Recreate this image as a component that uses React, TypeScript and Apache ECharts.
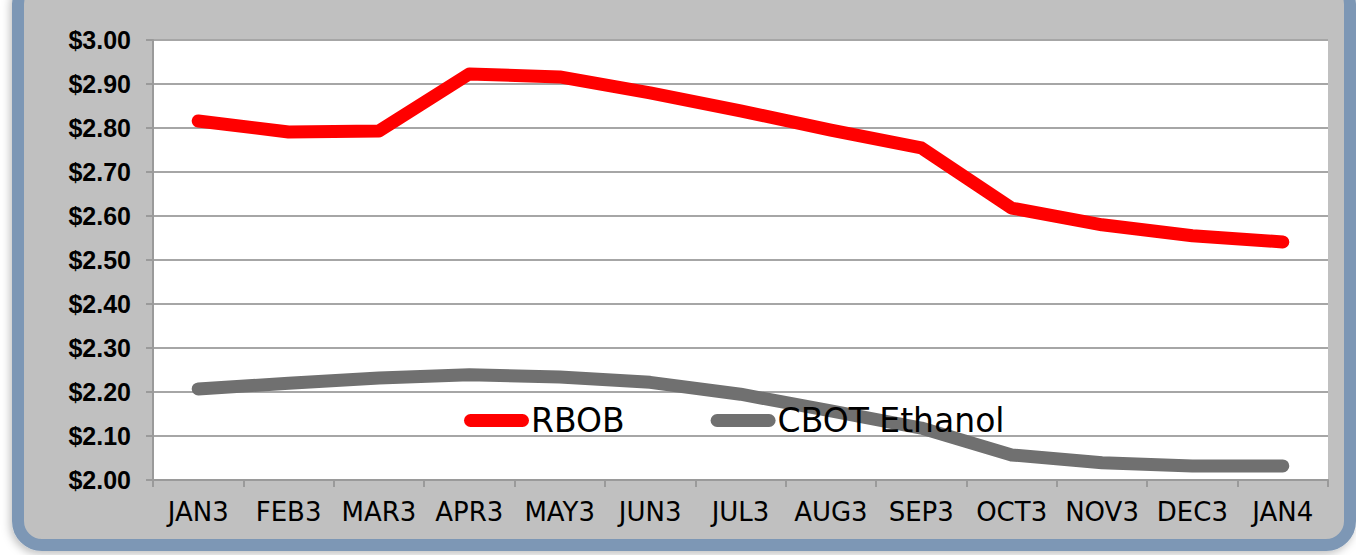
import React, { useEffect, useRef } from "react";
import * as echarts from "echarts";

const months = ["JAN3", "FEB3", "MAR3", "APR3", "MAY3", "JUN3", "JUL3", "AUG3", "SEP3", "OCT3", "NOV3", "DEC3", "JAN4"];
const rbob = [2.816, 2.791, 2.793, 2.923, 2.916, 2.88, 2.839, 2.795, 2.755, 2.618, 2.58, 2.555, 2.541];
const ethanol = [2.207, 2.22, 2.232, 2.239, 2.234, 2.222, 2.195, 2.157, 2.118, 2.057, 2.039, 2.032, 2.032];
const yMin = 2.0;
const yMax = 3.0;
const yStep = 0.1;

const capsule = "path://M6.5,0 H58.5 A6.5,6.5 0 0 1 58.5,13 H6.5 A6.5,6.5 0 0 1 6.5,0 Z";

export default function App() {
  const ref = useRef<HTMLDivElement>(null);
  useEffect(() => {
    if (!ref.current) return;
    const chart = echarts.init(ref.current, undefined, { renderer: "svg" });
    chart.setOption({
      animation: false,
      backgroundColor: "#ffffff",
      graphic: [
        {
          type: "rect",
          z: -10,
          silent: true,
          shape: { x: 18, y: -20, width: 1332, height: 565, r: 24 },
          style: {
            fill: "#c0c0c0",
            stroke: "#7d97b5",
            lineWidth: 12,
            shadowBlur: 8,
            shadowColor: "rgba(0,0,0,0.25)",
            shadowOffsetX: -2,
            shadowOffsetY: 3,
          },
        },
      ],
      grid: {
        left: 153,
        right: 28,
        top: 40,
        bottom: 75,
        show: true,
        backgroundColor: "#ffffff",
        borderWidth: 0,
      },
      legend: {
        left: 459,
        top: 399,
        itemWidth: 65,
        itemHeight: 13,
        itemGap: 86,
        textStyle: { fontFamily: "DejaVu Sans", fontSize: 33, color: "#000", padding: [0, 0, 0, -3] },
        data: [
          { name: "RBOB", icon: capsule },
          { name: "CBOT Ethanol", icon: capsule },
        ],
      },
      xAxis: {
        type: "category",
        data: months,
        boundaryGap: true,
        axisLine: { lineStyle: { color: "#9a9a9a", width: 2 } },
        axisTick: { show: true, length: 7, lineStyle: { color: "#9a9a9a", width: 2 } },
        axisLabel: {
          interval: 0,
          margin: 19,
          fontFamily: "DejaVu Sans",
          fontSize: 26,
          color: "#000",
        },
      },
      yAxis: {
        type: "value",
        min: yMin,
        max: yMax,
        interval: yStep,
        axisLine: { show: true, lineStyle: { color: "#9a9a9a", width: 2 } },
        axisTick: { show: true, length: 7, lineStyle: { color: "#9a9a9a", width: 2 } },
        splitLine: { lineStyle: { color: "#a6a6a6", width: 2 } },
        axisLabel: {
          margin: 22,
          fontFamily: "Liberation Sans",
          fontWeight: "bold",
          fontSize: 25,
          color: "#000",
          formatter: (v: number) => "$" + v.toFixed(2),
        },
      },
      series: [
        {
          name: "RBOB",
          type: "line",
          data: rbob,
          showSymbol: false,
          symbol: "none",
          color: "#ff0000",
          lineStyle: { color: "#ff0000", width: 13, cap: "round", join: "round" },
        },
        {
          name: "CBOT Ethanol",
          type: "line",
          data: ethanol,
          showSymbol: false,
          symbol: "none",
          color: "#707070",
          lineStyle: { color: "#707070", width: 13, cap: "round", join: "round" },
        },
      ],
    });
    return () => chart.dispose();
  }, []);
  return (
    <div
      ref={ref}
      style={{ position: "fixed", left: 0, top: 0, width: 1356, height: 555 }}
    />
  );
}
